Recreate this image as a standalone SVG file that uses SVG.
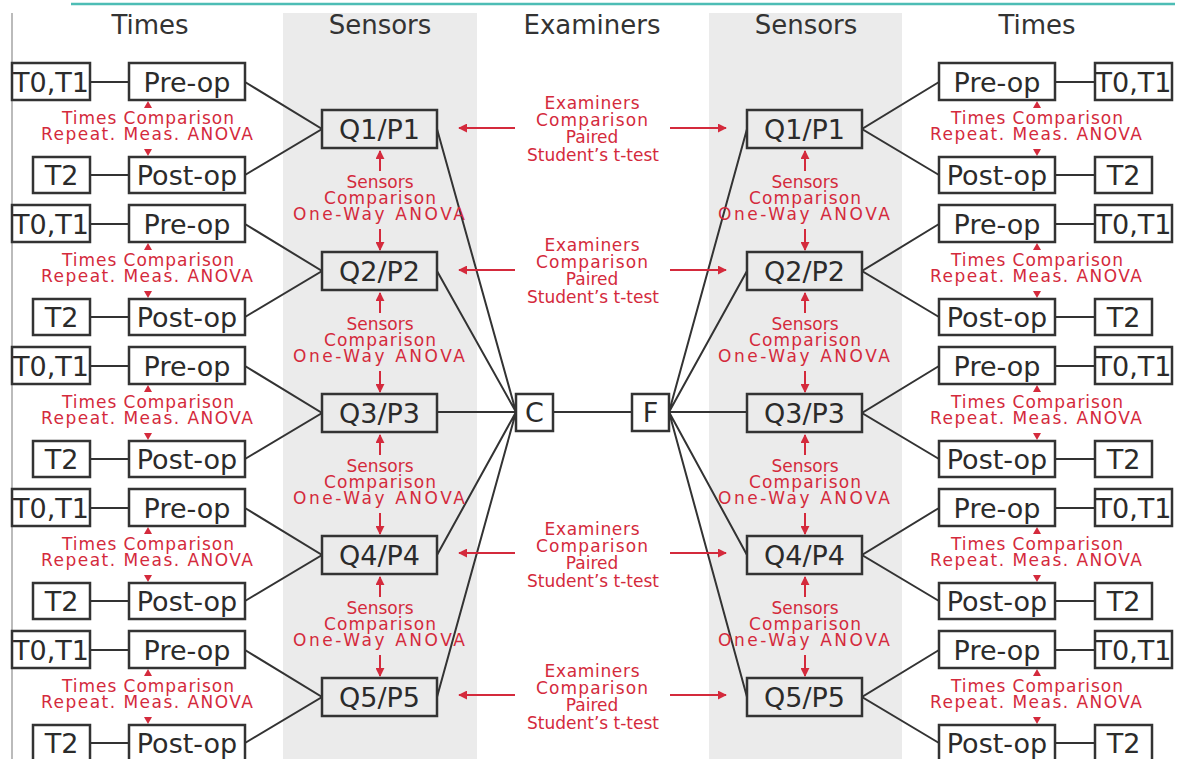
<svg xmlns="http://www.w3.org/2000/svg" xmlns:xlink="http://www.w3.org/1999/xlink" width="1183" height="759" viewBox="0 0 1183 759">
<style>
.bg{fill:#ebebeb}
.box{fill:#fff;stroke:#333;stroke-width:2.5}
.qbox{fill:#ebebeb;stroke:#333;stroke-width:2.5}
.ln{stroke:#333;stroke-width:2;fill:none}
.ra{stroke:#d42a3c;stroke-width:2;fill:none;marker-end:url(#ah)}
.lbl{font-family:"DejaVu Sans","Liberation Sans",sans-serif;font-size:27px;fill:#2b2b2b;text-anchor:middle}
.hdr{font-family:"DejaVu Sans","Liberation Sans",sans-serif;font-size:26px;fill:#333;text-anchor:middle}
.red{font-family:"DejaVu Sans","Liberation Sans",sans-serif;font-size:17px;fill:#d42a3c;text-anchor:middle}
</style>
<defs>
<marker id="ah" viewBox="0 0 10 10" refX="9" refY="5" markerWidth="4.5" markerHeight="4.5" orient="auto" markerUnits="strokeWidth">
<path d="M0,0 L10,5 L0,10 z" fill="#d42a3c"/>
</marker>
<polygon id="tu" points="-4,4 4,4 0,-3" fill="#d42a3c"/>
<polygon id="td" points="-4,-4 4,-4 0,3" fill="#d42a3c"/>
</defs>
<rect width="1183" height="759" fill="#fff"/>
<line x1="71" y1="4" x2="1175" y2="4" stroke="#4dbdb5" stroke-width="2.5"/>
<line x1="12" y1="13" x2="12" y2="759" stroke="#bbb" stroke-width="2"/>
<rect class="bg" x="283" y="13" width="194" height="746"/>
<rect class="bg" x="709" y="13" width="193" height="746"/>
<g id="headers">
<text class="hdr" x="150" y="34">Times</text>
<text class="hdr" x="380" y="34">Sensors</text>
<text class="hdr" x="592" y="34">Examiners</text>
<text class="hdr" x="806" y="34">Sensors</text>
<text class="hdr" x="1037" y="34">Times</text>
</g>
<g id="connectors">
<g id="times-links">
<path class="ln" d="M90,82H129M90,175H129M90,224H129M90,317H129M90,366H129M90,459H129M90,508H129M90,601H129M90,650H129M90,743H129"/>
<path class="ln" d="M1055,82H1095M1055,175H1095M1055,224H1095M1055,317H1095M1055,366H1095M1055,459H1095M1055,508H1095M1055,601H1095M1055,650H1095M1055,743H1095"/>
</g>
<g id="op-links">
<path class="ln" d="M245,82L322,129L245,175M245,224L322,271L245,317M245,366L322,413L245,459M245,508L322,555L245,601M245,650L322,697L245,743"/>
<path class="ln" d="M939,82L862,129L939,175M939,224L862,271L939,317M939,366L862,413L939,459M939,508L862,555L939,601M939,650L862,697L939,743"/>
</g>
<g id="examiner-links">
<path class="ln" d="M437,129L516,412M437,271L516,412M437,412H516M437,555L516,412M437,697L516,412"/>
<path class="ln" d="M553,412H632"/>
<path class="ln" d="M747,129L669,412M747,271L669,412M747,412H669M747,555L669,412M747,697L669,412"/>
</g>
</g>
<g id="comparisons">
<g id="times-comparisons">
<g transform="translate(148,0)">
<use href="#tu" y="104"/><use href="#td" y="153"/>
<use href="#tu" y="246"/><use href="#td" y="295"/>
<use href="#tu" y="388"/><use href="#td" y="437"/>
<use href="#tu" y="530"/><use href="#td" y="579"/>
<use href="#tu" y="672"/><use href="#td" y="721"/>
</g>
<g transform="translate(1037,0)">
<use href="#tu" y="104"/><use href="#td" y="153"/>
<use href="#tu" y="246"/><use href="#td" y="295"/>
<use href="#tu" y="388"/><use href="#td" y="437"/>
<use href="#tu" y="530"/><use href="#td" y="579"/>
<use href="#tu" y="672"/><use href="#td" y="721"/>
</g>
<g class="red">
<text x="148" y="124" textLength="172">Times Comparison</text><text x="147" y="140" textLength="212">Repeat. Meas. ANOVA</text>
<text x="148" y="266" textLength="172">Times Comparison</text><text x="147" y="282" textLength="212">Repeat. Meas. ANOVA</text>
<text x="148" y="408" textLength="172">Times Comparison</text><text x="147" y="424" textLength="212">Repeat. Meas. ANOVA</text>
<text x="148" y="550" textLength="172">Times Comparison</text><text x="147" y="566" textLength="212">Repeat. Meas. ANOVA</text>
<text x="148" y="692" textLength="172">Times Comparison</text><text x="147" y="708" textLength="212">Repeat. Meas. ANOVA</text>
<text x="1037" y="124" textLength="172">Times Comparison</text><text x="1036" y="140" textLength="212">Repeat. Meas. ANOVA</text>
<text x="1037" y="266" textLength="172">Times Comparison</text><text x="1036" y="282" textLength="212">Repeat. Meas. ANOVA</text>
<text x="1037" y="408" textLength="172">Times Comparison</text><text x="1036" y="424" textLength="212">Repeat. Meas. ANOVA</text>
<text x="1037" y="550" textLength="172">Times Comparison</text><text x="1036" y="566" textLength="212">Repeat. Meas. ANOVA</text>
<text x="1037" y="692" textLength="172">Times Comparison</text><text x="1036" y="708" textLength="212">Repeat. Meas. ANOVA</text>
</g>
</g>
<g id="sensors-comparisons">
<line class="ra" x1="380" y1="171" x2="380" y2="151"/><line class="ra" x1="380" y1="229" x2="380" y2="250"/>
<line class="ra" x1="380" y1="313" x2="380" y2="293"/><line class="ra" x1="380" y1="371" x2="380" y2="392"/>
<line class="ra" x1="380" y1="455" x2="380" y2="435"/><line class="ra" x1="380" y1="513" x2="380" y2="534"/>
<line class="ra" x1="380" y1="597" x2="380" y2="577"/><line class="ra" x1="380" y1="655" x2="380" y2="676"/>
<line class="ra" x1="805" y1="171" x2="805" y2="151"/><line class="ra" x1="805" y1="229" x2="805" y2="250"/>
<line class="ra" x1="805" y1="313" x2="805" y2="293"/><line class="ra" x1="805" y1="371" x2="805" y2="392"/>
<line class="ra" x1="805" y1="455" x2="805" y2="435"/><line class="ra" x1="805" y1="513" x2="805" y2="534"/>
<line class="ra" x1="805" y1="597" x2="805" y2="577"/><line class="ra" x1="805" y1="655" x2="805" y2="676"/>
<g class="red">
<text x="380" y="188">Sensors</text><text x="380" y="204" textLength="112">Comparison</text><text x="379" y="220" textLength="172">One-Way ANOVA</text>
<text x="380" y="330">Sensors</text><text x="380" y="346" textLength="112">Comparison</text><text x="379" y="362" textLength="172">One-Way ANOVA</text>
<text x="380" y="472">Sensors</text><text x="380" y="488" textLength="112">Comparison</text><text x="379" y="504" textLength="172">One-Way ANOVA</text>
<text x="380" y="614">Sensors</text><text x="380" y="630" textLength="112">Comparison</text><text x="379" y="646" textLength="172">One-Way ANOVA</text>
<text x="805" y="188">Sensors</text><text x="805" y="204" textLength="112">Comparison</text><text x="804" y="220" textLength="172">One-Way ANOVA</text>
<text x="805" y="330">Sensors</text><text x="805" y="346" textLength="112">Comparison</text><text x="804" y="362" textLength="172">One-Way ANOVA</text>
<text x="805" y="472">Sensors</text><text x="805" y="488" textLength="112">Comparison</text><text x="804" y="504" textLength="172">One-Way ANOVA</text>
<text x="805" y="614">Sensors</text><text x="805" y="630" textLength="112">Comparison</text><text x="804" y="646" textLength="172">One-Way ANOVA</text>
</g>
</g>
<g id="examiners-comparisons">
<line class="ra" x1="515" y1="128" x2="459" y2="128"/><line class="ra" x1="670" y1="128" x2="726" y2="128"/>
<line class="ra" x1="515" y1="270" x2="459" y2="270"/><line class="ra" x1="670" y1="270" x2="726" y2="270"/>
<line class="ra" x1="515" y1="553" x2="459" y2="553"/><line class="ra" x1="670" y1="553" x2="726" y2="553"/>
<line class="ra" x1="515" y1="695" x2="459" y2="695"/><line class="ra" x1="670" y1="695" x2="726" y2="695"/>
<g class="red">
<text x="592" y="109" textLength="95">Examiners</text><text x="592" y="126" textLength="112">Comparison</text><text x="592" y="143">Paired</text><text x="593" y="161" textLength="132">Student’s t-test</text>
<text x="592" y="251" textLength="95">Examiners</text><text x="592" y="268" textLength="112">Comparison</text><text x="592" y="285">Paired</text><text x="593" y="303" textLength="132">Student’s t-test</text>
<text x="592" y="535" textLength="95">Examiners</text><text x="592" y="552" textLength="112">Comparison</text><text x="592" y="569">Paired</text><text x="593" y="587" textLength="132">Student’s t-test</text>
<text x="592" y="677" textLength="95">Examiners</text><text x="592" y="694" textLength="112">Comparison</text><text x="592" y="711">Paired</text><text x="593" y="729" textLength="132">Student’s t-test</text>
</g>
</g>
</g>
<g id="examiner-C"><rect class="box" x="516" y="394" width="37" height="37"/><text class="lbl" x="534.5" y="422">C</text></g>
<g id="examiner-F"><rect class="box" x="632" y="394" width="37" height="37"/><text class="lbl" x="650.5" y="422">F</text></g>
<g id="left-row1" transform="translate(0,0)">
<g id="L1-t01"><rect class="box" x="12" y="63" width="78" height="37"/><text class="lbl" x="51" y="92">T0,T1</text></g>
<g id="L1-pre"><rect class="box" x="129" y="63" width="116" height="37"/><text class="lbl" x="187" y="92">Pre-op</text></g>
<g id="L1-t2"><rect class="box" x="33" y="157" width="57" height="36"/><text class="lbl" x="61.5" y="185">T2</text></g>
<g id="L1-post"><rect class="box" x="129" y="157" width="116" height="36"/><text class="lbl" x="187" y="185">Post-op</text></g>
<g id="L1-q"><rect class="qbox" x="322" y="110" width="115" height="38"/><text class="lbl" x="379.5" y="139">Q1/P1</text></g>
</g>
<g id="left-row2" transform="translate(0,142)">
<g id="L2-t01"><rect class="box" x="12" y="63" width="78" height="37"/><text class="lbl" x="51" y="92">T0,T1</text></g>
<g id="L2-pre"><rect class="box" x="129" y="63" width="116" height="37"/><text class="lbl" x="187" y="92">Pre-op</text></g>
<g id="L2-t2"><rect class="box" x="33" y="157" width="57" height="36"/><text class="lbl" x="61.5" y="185">T2</text></g>
<g id="L2-post"><rect class="box" x="129" y="157" width="116" height="36"/><text class="lbl" x="187" y="185">Post-op</text></g>
<g id="L2-q"><rect class="qbox" x="322" y="110" width="115" height="38"/><text class="lbl" x="379.5" y="139">Q2/P2</text></g>
</g>
<g id="left-row3" transform="translate(0,284)">
<g id="L3-t01"><rect class="box" x="12" y="63" width="78" height="37"/><text class="lbl" x="51" y="92">T0,T1</text></g>
<g id="L3-pre"><rect class="box" x="129" y="63" width="116" height="37"/><text class="lbl" x="187" y="92">Pre-op</text></g>
<g id="L3-t2"><rect class="box" x="33" y="157" width="57" height="36"/><text class="lbl" x="61.5" y="185">T2</text></g>
<g id="L3-post"><rect class="box" x="129" y="157" width="116" height="36"/><text class="lbl" x="187" y="185">Post-op</text></g>
<g id="L3-q"><rect class="qbox" x="322" y="110" width="115" height="38"/><text class="lbl" x="379.5" y="139">Q3/P3</text></g>
</g>
<g id="left-row4" transform="translate(0,426)">
<g id="L4-t01"><rect class="box" x="12" y="63" width="78" height="37"/><text class="lbl" x="51" y="92">T0,T1</text></g>
<g id="L4-pre"><rect class="box" x="129" y="63" width="116" height="37"/><text class="lbl" x="187" y="92">Pre-op</text></g>
<g id="L4-t2"><rect class="box" x="33" y="157" width="57" height="36"/><text class="lbl" x="61.5" y="185">T2</text></g>
<g id="L4-post"><rect class="box" x="129" y="157" width="116" height="36"/><text class="lbl" x="187" y="185">Post-op</text></g>
<g id="L4-q"><rect class="qbox" x="322" y="110" width="115" height="38"/><text class="lbl" x="379.5" y="139">Q4/P4</text></g>
</g>
<g id="left-row5" transform="translate(0,568)">
<g id="L5-t01"><rect class="box" x="12" y="63" width="78" height="37"/><text class="lbl" x="51" y="92">T0,T1</text></g>
<g id="L5-pre"><rect class="box" x="129" y="63" width="116" height="37"/><text class="lbl" x="187" y="92">Pre-op</text></g>
<g id="L5-t2"><rect class="box" x="33" y="157" width="57" height="36"/><text class="lbl" x="61.5" y="185">T2</text></g>
<g id="L5-post"><rect class="box" x="129" y="157" width="116" height="36"/><text class="lbl" x="187" y="185">Post-op</text></g>
<g id="L5-q"><rect class="qbox" x="322" y="110" width="115" height="38"/><text class="lbl" x="379.5" y="139">Q5/P5</text></g>
</g>
<g id="right-row1" transform="translate(0,0)">
<g id="R1-t01"><rect class="box" x="1095" y="63" width="77" height="37"/><text class="lbl" x="1133.5" y="92">T0,T1</text></g>
<g id="R1-pre"><rect class="box" x="939" y="63" width="116" height="37"/><text class="lbl" x="997" y="92">Pre-op</text></g>
<g id="R1-t2"><rect class="box" x="1095" y="157" width="57" height="36"/><text class="lbl" x="1123.5" y="185">T2</text></g>
<g id="R1-post"><rect class="box" x="939" y="157" width="116" height="36"/><text class="lbl" x="997" y="185">Post-op</text></g>
<g id="R1-q"><rect class="qbox" x="747" y="110" width="115" height="38"/><text class="lbl" x="804.5" y="139">Q1/P1</text></g>
</g>
<g id="right-row2" transform="translate(0,142)">
<g id="R2-t01"><rect class="box" x="1095" y="63" width="77" height="37"/><text class="lbl" x="1133.5" y="92">T0,T1</text></g>
<g id="R2-pre"><rect class="box" x="939" y="63" width="116" height="37"/><text class="lbl" x="997" y="92">Pre-op</text></g>
<g id="R2-t2"><rect class="box" x="1095" y="157" width="57" height="36"/><text class="lbl" x="1123.5" y="185">T2</text></g>
<g id="R2-post"><rect class="box" x="939" y="157" width="116" height="36"/><text class="lbl" x="997" y="185">Post-op</text></g>
<g id="R2-q"><rect class="qbox" x="747" y="110" width="115" height="38"/><text class="lbl" x="804.5" y="139">Q2/P2</text></g>
</g>
<g id="right-row3" transform="translate(0,284)">
<g id="R3-t01"><rect class="box" x="1095" y="63" width="77" height="37"/><text class="lbl" x="1133.5" y="92">T0,T1</text></g>
<g id="R3-pre"><rect class="box" x="939" y="63" width="116" height="37"/><text class="lbl" x="997" y="92">Pre-op</text></g>
<g id="R3-t2"><rect class="box" x="1095" y="157" width="57" height="36"/><text class="lbl" x="1123.5" y="185">T2</text></g>
<g id="R3-post"><rect class="box" x="939" y="157" width="116" height="36"/><text class="lbl" x="997" y="185">Post-op</text></g>
<g id="R3-q"><rect class="qbox" x="747" y="110" width="115" height="38"/><text class="lbl" x="804.5" y="139">Q3/P3</text></g>
</g>
<g id="right-row4" transform="translate(0,426)">
<g id="R4-t01"><rect class="box" x="1095" y="63" width="77" height="37"/><text class="lbl" x="1133.5" y="92">T0,T1</text></g>
<g id="R4-pre"><rect class="box" x="939" y="63" width="116" height="37"/><text class="lbl" x="997" y="92">Pre-op</text></g>
<g id="R4-t2"><rect class="box" x="1095" y="157" width="57" height="36"/><text class="lbl" x="1123.5" y="185">T2</text></g>
<g id="R4-post"><rect class="box" x="939" y="157" width="116" height="36"/><text class="lbl" x="997" y="185">Post-op</text></g>
<g id="R4-q"><rect class="qbox" x="747" y="110" width="115" height="38"/><text class="lbl" x="804.5" y="139">Q4/P4</text></g>
</g>
<g id="right-row5" transform="translate(0,568)">
<g id="R5-t01"><rect class="box" x="1095" y="63" width="77" height="37"/><text class="lbl" x="1133.5" y="92">T0,T1</text></g>
<g id="R5-pre"><rect class="box" x="939" y="63" width="116" height="37"/><text class="lbl" x="997" y="92">Pre-op</text></g>
<g id="R5-t2"><rect class="box" x="1095" y="157" width="57" height="36"/><text class="lbl" x="1123.5" y="185">T2</text></g>
<g id="R5-post"><rect class="box" x="939" y="157" width="116" height="36"/><text class="lbl" x="997" y="185">Post-op</text></g>
<g id="R5-q"><rect class="qbox" x="747" y="110" width="115" height="38"/><text class="lbl" x="804.5" y="139">Q5/P5</text></g>
</g>
</svg>
